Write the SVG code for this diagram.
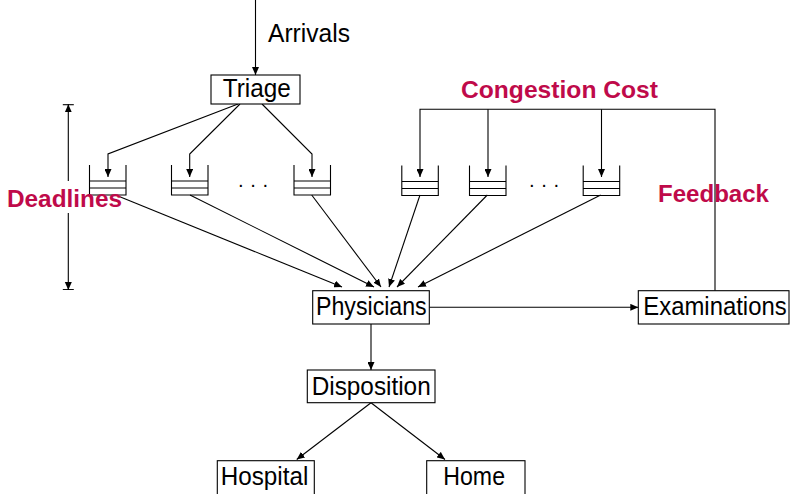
<svg xmlns="http://www.w3.org/2000/svg" width="790" height="494" viewBox="0 0 790 494">
  <style>
    .box { fill: #fff; stroke: #000; stroke-width: 1.1; }
    .edge { fill: none; stroke: #000; stroke-width: 1.1; }
    .arr { marker-end: url(#tip); }
    .lbl { font-family: "Liberation Sans", Arial, sans-serif; font-size: 25px; fill: #000; }
    .hl { font-family: "Liberation Sans", Arial, sans-serif; font-size: 24px; font-weight: bold; fill: #BF0A4A; }
    .dots { font-family: "Liberation Sans", Arial, sans-serif; font-size: 20px; fill: #000; }
    .queue { fill: none; stroke: #000; stroke-width: 1.1; }
  </style>
  <defs>
    <marker id="tip" viewBox="0 0 8 7" refX="8" refY="3.5" markerWidth="8" markerHeight="7" markerUnits="userSpaceOnUse" orient="auto">
      <path d="M0,0 L8,3.5 L0,7 z" fill="#000"/>
    </marker>
    <marker id="tipbar" viewBox="0 0 8 12" refX="8" refY="6" markerWidth="8" markerHeight="12" markerUnits="userSpaceOnUse" orient="auto">
      <path d="M0,2.5 L8,6 L0,9.5 z" fill="#000"/>
      <path d="M7.6,0.5 V11.5" stroke="#000" stroke-width="1.1"/>
    </marker>
    <!-- open-top buffer with two slots -->
    <path id="buffer" class="queue" d="M0,0 V30 H36.5 V0 M0,16 H36.5 M0,23 H36.5"/>
  </defs>

  <!-- deadline span (double arrow, split around its label) -->
  <g id="deadline-span">
    <path class="edge" d="M68.3,181 V104.3" marker-end="url(#tipbar)"/>
    <path class="edge" d="M68.3,213 V290" marker-end="url(#tipbar)"/>
  </g>

  <g id="connectors">
    <!-- arrivals -->
    <path class="edge arr" d="M255.5,0 V75"/>
    <!-- triage to buffers -->
    <path class="edge arr" d="M238,104 L108,154 V177"/>
    <path class="edge arr" d="M240,104 L189.7,154 V177"/>
    <path class="edge arr" d="M262,104 L312,154 V177"/>
    <!-- congestion feedback from examinations -->
    <path class="edge arr" d="M715,290.7 V109.3 H420 V177"/>
    <path class="edge arr" d="M488,109.3 V177"/>
    <path class="edge arr" d="M601.5,109.3 V177"/>
    <!-- buffers to physicians -->
    <path class="edge arr" d="M118,196 L342,287"/>
    <path class="edge arr" d="M190,195 L374,287"/>
    <path class="edge arr" d="M311.7,195 L381,287"/>
    <path class="edge arr" d="M420,195 L389,287"/>
    <path class="edge arr" d="M487.3,195 L397,287"/>
    <path class="edge arr" d="M600.7,195 L418,287"/>
    <!-- physicians onward -->
    <path class="edge arr" d="M429.3,307.3 H638.3"/>
    <path class="edge arr" d="M371,324 V370"/>
    <path class="edge arr" d="M371,402.7 L296.7,459.5"/>
    <path class="edge arr" d="M371,402.7 L445,459.5"/>
  </g>

  <!-- buffers -->
  <g id="buffer-1"><use href="#buffer" x="89.5" y="165"/></g>
  <g id="buffer-2"><use href="#buffer" x="171.5" y="165"/></g>
  <g id="buffer-3"><use href="#buffer" x="294" y="165"/></g>
  <g id="buffer-4"><use href="#buffer" x="401.8" y="165.5"/></g>
  <g id="buffer-5"><use href="#buffer" x="469.5" y="165.5"/></g>
  <g id="buffer-6"><use href="#buffer" x="583.2" y="165.5"/></g>
  <text class="dots" x="253" y="191" text-anchor="middle">· · ·</text>
  <text class="dots" x="544" y="190.5" text-anchor="middle">· · ·</text>

  <g id="triage">
    <rect class="box" x="211" y="75" width="89" height="29"/>
    <text class="lbl" x="222.7" y="96.7" textLength="68" lengthAdjust="spacingAndGlyphs">Triage</text>
  </g>
  <g id="physicians">
    <rect class="box" x="312.7" y="290.7" width="116.6" height="33.3"/>
    <text class="lbl" x="316" y="315" textLength="110.7" lengthAdjust="spacingAndGlyphs">Physicians</text>
  </g>
  <g id="examinations">
    <rect class="box" x="638.3" y="290.7" width="150.7" height="33.3"/>
    <text class="lbl" x="643.3" y="315" textLength="143.4" lengthAdjust="spacingAndGlyphs">Examinations</text>
  </g>
  <g id="disposition">
    <rect class="box" x="307.3" y="370" width="127.7" height="32.7"/>
    <text class="lbl" x="311.7" y="395" textLength="119" lengthAdjust="spacingAndGlyphs">Disposition</text>
  </g>
  <g id="hospital">
    <rect class="box" x="217.3" y="460.7" width="97" height="35"/>
    <text class="lbl" x="220.7" y="485" textLength="87.6" lengthAdjust="spacingAndGlyphs">Hospital</text>
  </g>
  <g id="home">
    <rect class="box" x="426.7" y="460.7" width="98.3" height="35"/>
    <text class="lbl" x="443.3" y="485" textLength="61.7" lengthAdjust="spacingAndGlyphs">Home</text>
  </g>

  <g id="labels">
    <text class="lbl" x="268" y="42" textLength="82" lengthAdjust="spacingAndGlyphs">Arrivals</text>
    <text class="hl" x="461" y="98.3" textLength="197" lengthAdjust="spacingAndGlyphs">Congestion Cost</text>
    <text class="hl" x="658" y="202.3" textLength="111" lengthAdjust="spacingAndGlyphs">Feedback</text>
    <text class="hl" x="7" y="206.7" textLength="115" lengthAdjust="spacingAndGlyphs">Deadlines</text>
  </g>
</svg>
